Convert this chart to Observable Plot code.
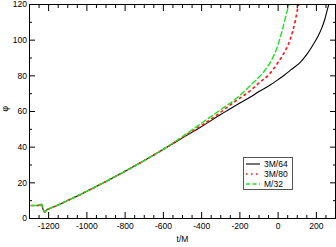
<!DOCTYPE html>
<html><head><meta charset="utf-8">
<script src="https://cdn.jsdelivr.net/npm/d3@7"></script>
<script src="https://cdn.jsdelivr.net/npm/@observablehq/plot@0.6"></script>
<style>
body{margin:0;background:#fff;}
#wrap{position:relative;width:336px;height:247px;font-family:"Liberation Sans",Arial,sans-serif;}
#legend{position:absolute;left:243px;top:157px;width:48px;height:31px;border:1px solid #555;background:#fff;font-size:8.5px;color:#000;}
#legend .row{position:absolute;left:0;height:10px;line-height:10px;}
#legend svg{position:absolute;left:2px;top:0;}
#legend span{position:absolute;left:20px;top:0;white-space:nowrap;}
</style></head><body><div id="wrap"></div>
<script>
// shared early part (all three runs overlap)
const tCommon   = [-1290,-1260,-1245,-1240,-1235,-1230,-1224,-1218,-1212,-1200,-1150,-1100,-1050,-1000,-900,-800,-700,-600];
const phiCommon = [7.3,7.3,7.5,8.0,7.6,5.5,4.0,3.6,4.6,5.3,7.6,10.1,12.6,15.3,20.8,26.5,32.5,38.8];
// late parts
const tBlack   = [-500,-400,-300,-200,-145,-100,-50,0,30,70,117,150,186,210,230,245,256,265,270];
const phiBlack = [45.2,51.6,58.3,64.8,68.1,71.2,74.3,77.9,80.2,83.6,87.7,92.0,98.0,102.5,107.3,112.0,116.6,120.0,122.0];
const tRed     = [-500,-400,-300,-250,-200,-145,-100,-50,-23,0,29,64,90,105,110];
const phiRed   = [45.6,52.2,59.6,63.7,67.5,71.7,76.0,80.5,84.0,87.6,92.4,100.7,111.0,119.4,122.0];
const tGreen   = [-500,-400,-300,-250,-200,-145,-100,-70,-40,-5,21,43,55,58];
const phiGreen = [46.0,53.5,61.0,64.8,69.0,74.6,79.3,83.0,87.7,96.0,105.4,114.7,120.0,122.0];
const seriesNames  = ["3M/64","3M/80","M/32"];
const seriesColors = ["#000000","#ff1a1a","#22e022"];
const xDomain = [-1300, 300];
const yDomain = [0, 120];
const xMajor = [-1200,-1000,-800,-600,-400,-200,0,200];
const yMajor = [0,20,40,60,80,100,120];
const xMinor = d3.range(-1300,301,50).filter(v=>!xMajor.includes(v));
const yMinor = d3.range(0,121,10).filter(v=>!yMajor.includes(v));

function build(tLate, pLate){
  const a = tCommon.map((t,i)=>({t, phi: phiCommon[i]}));
  return a.concat(tLate.map((t,i)=>({t, phi: pLate[i]})));
}
const dBlack = build(tBlack, phiBlack);
const dRed   = build(tRed, phiRed);
const dGreen = build(tGreen, phiGreen);

const tk = "black";
// inward ticks: an outward tick of length L shifted inward by L
function xTicks(vals, L){
  return [
    Plot.axisX(vals, {anchor: "bottom", tickSize: L, dy: -L, text: null, label: null, stroke: tk}),
    Plot.axisX(vals, {anchor: "top", tickSize: L, dy: L, text: null, label: null, stroke: tk})
  ];
}
function yTicks(vals, L){
  return [
    Plot.axisY(vals, {anchor: "left", tickSize: L, dx: L, text: null, label: null, stroke: tk}),
    Plot.axisY(vals, {anchor: "right", tickSize: L, dx: -L, text: null, label: null, stroke: tk})
  ];
}
const chart = Plot.plot({
  width: 336, height: 247,
  marginLeft: 29, marginRight: 1, marginTop: 4, marginBottom: 29,
  style: {fontFamily: "Liberation Sans, Arial, sans-serif", fontSize: "8.5px"},
  x: {domain: xDomain},
  y: {domain: yDomain},
  marks: [
    Plot.line(dBlack, {x: "t", y: "phi", stroke: seriesColors[0], strokeWidth: 1.1, curve: "monotone-x", clip: true}),
    Plot.line(dRed,   {x: "t", y: "phi", stroke: seriesColors[1], strokeWidth: 1.7, strokeDasharray: "1.7,4", curve: "monotone-x", clip: true}),
    Plot.line(dGreen, {x: "t", y: "phi", stroke: seriesColors[2], strokeWidth: 1.4, strokeDasharray: "5,3", curve: "monotone-x", clip: true}),
    ...xTicks(xMajor, 6), ...xTicks(xMinor, 3),
    ...yTicks(yMajor, 6), ...yTicks(yMinor, 3),
    Plot.axisX(xMajor, {anchor: "bottom", tickSize: 0, tickPadding: 4, label: null, tickFormat: d => String(d)}),
    Plot.axisY(yMajor, {anchor: "left", tickSize: 0, tickPadding: 2.5, label: null, tickFormat: d => String(d)}),
    Plot.text(["t/M"], {frameAnchor: "bottom", dy: 23, text: d=>d}),
    Plot.text(["φ"], {frameAnchor: "left", dx: -24, rotate: -90, text: d=>d}),
    Plot.frame({stroke: "black", strokeWidth: 1})
  ]
});
const wrap = document.getElementById("wrap");
wrap.appendChild(chart);

const lg = document.createElement("div");
lg.id = "legend";
const dashes = [null, "1.7,3.3", "4,2.5"];
const widths = [1.1, 1.7, 1.4];
seriesNames.forEach((name, i) => {
  const row = document.createElement("div");
  row.className = "row";
  row.style.top = (1 + i*10) + "px";
  row.style.width = "48px";
  row.innerHTML = `<svg width="14" height="10"><line x1="0" x2="14" y1="5" y2="5" stroke="${seriesColors[i]}" stroke-width="${widths[i]}" ${dashes[i] ? `stroke-dasharray="${dashes[i]}"` : ""}/></svg><span>${name}</span>`;
  lg.appendChild(row);
});
wrap.appendChild(lg);
</script>
</body></html>
